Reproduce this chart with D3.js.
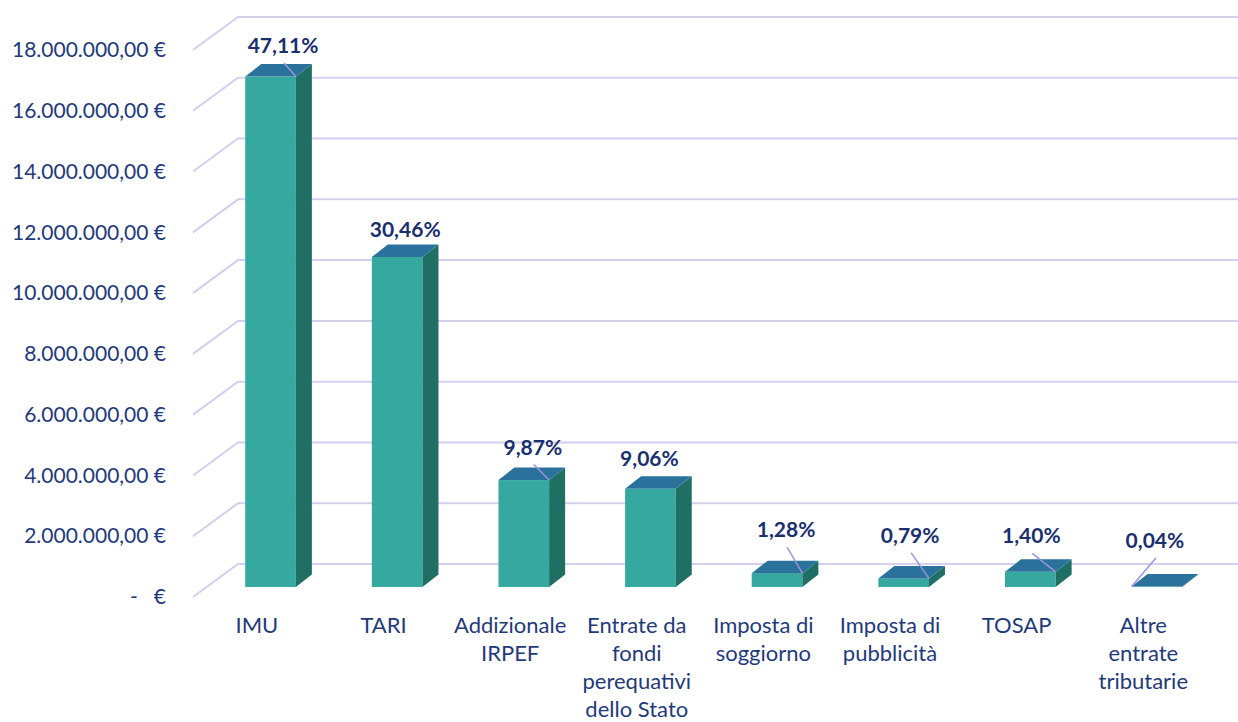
<!DOCTYPE html>
<html>
<head>
<meta charset="utf-8">
<script src="https://cdn.jsdelivr.net/npm/d3@7"></script>
<style>
  body { margin: 0; background: #fff; }
  svg text { font-family: Lato, "Noto Sans", sans-serif; }
</style>
</head>
<body>
<div class="container"></div>
<script>
// data
const categories = ["IMU", "TARI", "Addizionale IRPEF", "Entrate da fondi perequativi dello Stato",
  "Imposta di soggiorno", "Imposta di pubblicità", "TOSAP", "Altre entrate tributarie"];
const categoryLines = [["IMU"], ["TARI"], ["Addizionale", "IRPEF"], ["Entrate da", "fondi", "perequativi", "dello Stato"],
  ["Imposta di", "soggiorno"], ["Imposta di", "pubblicità"], ["TOSAP"], ["Altre", "entrate", "tributarie"]];
const values = [16795000, 10859000, 3519000, 3230000, 456000, 282000, 499000, 14000];
const percentLabels = ["47,11%", "30,46%", "9,87%", "9,06%", "1,28%", "0,79%", "1,40%", "0,04%"];
const yTicks = [0, 2000000, 4000000, 6000000, 8000000, 10000000, 12000000, 14000000, 16000000, 18000000];

// manual label nudges (like the moved labels in the spreadsheet) and leader line ends
const labelNudge = [[4.5, 0], [0, 3], [1, -2], [-9, 1], [1, -12.5], [-1.5, -12], [-7, -5], [-10, -15]];
const leaderEnd = ["right", null, "right", null, "right", "right", "right", "left"];

// build the SVG
svgwidth = 1238;
svgheight = 722;
backLeft = 238;            // left edge of the back wall
floorDx = 45, floorDy = 33; // front of the floor is left/down of the back
barT = 23 / 33;            // where the bar front faces sit between back and front
barDx = 16, barDy = 12.5;   // bar depth

svg = d3.select(".container")
    .append("svg")
    .attr("width", svgwidth)
    .attr("height", svgheight);

// scales on the back wall
posY = d3.scaleLinear()
    .domain([0, 18000000])
    .range([564, 17]);
posX = d3.scaleBand()
    .domain(categories)
    .range([backLeft + 0.6, backLeft + 1013.6])
    .paddingInner(0.6)
    .paddingOuter(0.3);
// front plane of the floor, used for axis labels
frontY = d3.scaleLinear()
    .domain(posY.domain())
    .range(posY.range().map(d => d + floorDy));

const itLocale = d3.formatLocale({decimal: ",", thousands: ".", grouping: [3], currency: ["", " €"]});
const euro = itLocale.format("$,.2f");

// gridlines: diagonal on the side wall, then flat across the back
svg.append("g")
    .selectAll("path")
    .data(yTicks)
    .enter()
    .append("path")
        .attr("d", d => "M" + (backLeft - floorDx) + "," + (posY(d) + floorDy) +
            "L" + backLeft + "," + posY(d) + "L" + svgwidth + "," + posY(d))
        .attr("fill", "none")
        .attr("stroke", "#d3cfec")
        .attr("stroke-width", 2);

// y axis
yAxis = svg.append("g")
    .attr("transform", "translate(" + (backLeft - floorDx) + ",0)")
    .call(d3.axisLeft(frontY)
        .tickValues(yTicks)
        .tickSize(0)
        .tickPadding(27)
        .tickFormat(d => d === 0 ? "-   €" : euro(d)));
yAxis.select(".domain").remove();
yAxis.selectAll("text")
    .attr("font-family", "Lato, sans-serif")
    .attr("font-size", "21px")
    .attr("fill", "#1f3a7a")
    .style("white-space", "pre");

// bars
const shiftX = -floorDx * barT, shiftY = floorDy * barT;
const bars = categories.map((c, i) => {
    const x0 = posX(c) + shiftX;
    const x1 = x0 + posX.bandwidth();
    const yTop = posY(values[i]) + shiftY;
    const yBot = posY(0) + shiftY;
    return {i, x0, x1, yTop, yBot};
});

g = svg.append("g");
g.selectAll(".front")
    .data(bars)
    .enter()
    .append("rect")
        .attr("class", "front")
        .attr("x", d => d.x0)
        .attr("y", d => d.yTop)
        .attr("width", d => d.x1 - d.x0)
        .attr("height", d => d.yBot - d.yTop)
        .attr("fill", "#35a99f");
g.selectAll(".side")
    .data(bars)
    .enter()
    .append("polygon")
        .attr("class", "side")
        .attr("points", d => [[d.x1, d.yBot], [d.x1 + barDx, d.yBot - barDy], [d.x1 + barDx, d.yTop - barDy], [d.x1, d.yTop]].join(" "))
        .attr("fill", "#206f64");
g.selectAll(".top")
    .data(bars)
    .enter()
    .append("polygon")
        .attr("class", "top")
        .attr("points", d => [[d.x0, d.yTop], [d.x0 + barDx, d.yTop - barDy], [d.x1 + barDx, d.yTop - barDy], [d.x1, d.yTop]].join(" "))
        .attr("fill", "#2a729c");

// data labels + leader lines
bars.forEach(d => {
    const cx = d.x0 + (d.x1 - d.x0 + barDx) / 2 + labelNudge[d.i][0];
    const base = d.yTop - barDy - 11 + labelNudge[d.i][1];
    if (leaderEnd[d.i]) {
        svg.append("line")
            .attr("x1", cx + 1)
            .attr("y1", base + 10)
            .attr("x2", leaderEnd[d.i] === "right" ? d.x1 : d.x0)
            .attr("y2", d.yTop)
            .attr("stroke", "#9d93e0")
            .attr("stroke-width", 1.5);
    }
    svg.append("text")
        .attr("x", cx)
        .attr("y", base)
        .attr("text-anchor", "middle")
        .attr("font-size", "21px")
        .attr("font-weight", "bold")
        .attr("fill", "#1a2f6e")
        .text(percentLabels[d.i]);
});

// category labels on the front edge of the floor
svg.selectAll(".cat")
    .data(categories)
    .enter()
    .append("text")
        .attr("class", "cat")
        .attr("x", d => posX(d) + posX.bandwidth() / 2 - floorDx)
        .attr("y", 633)
        .attr("text-anchor", "middle")
        .attr("font-size", "22px")
        .attr("fill", "#1f3a7a")
        .each(function(d, i) {
            const t = d3.select(this);
            categoryLines[i].forEach((line, k) => {
                t.append("tspan")
                    .attr("x", posX(d) + posX.bandwidth() / 2 - floorDx)
                    .attr("dy", k === 0 ? 0 : 28)
                    .text(line);
            });
        });
</script>
</body>
</html>
